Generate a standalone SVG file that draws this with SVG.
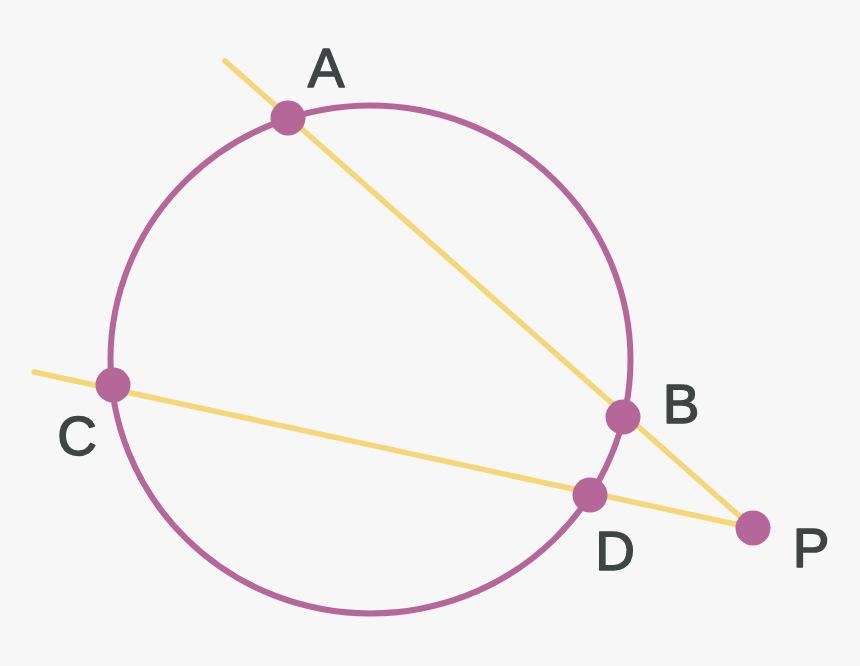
<svg xmlns="http://www.w3.org/2000/svg" width="860" height="666" viewBox="0 0 860 666">
  <style>
    .seg { stroke: #f5d679; stroke-width: 5.5; stroke-linecap: round; fill: none; }
    .circ { stroke: #b5679a; stroke-width: 6; fill: none; }
    .pt { fill: #b5679a; }
    .lbl { font-family: "Liberation Sans", "DejaVu Sans", sans-serif; font-size: 55px; fill: #3f4444; stroke: #3f4444; stroke-width: 1.5; stroke-linejoin: round; text-anchor: middle; }
  </style>
  <rect x="0" y="0" width="860" height="666" fill="#f7f7f7"/>
  <g id="connectors">
    <line class="seg" x1="225" y1="61" x2="753" y2="528"/>
    <line class="seg" x1="34" y1="372" x2="753" y2="528"/>
    <ellipse class="circ" cx="370.5" cy="359.5" rx="260" ry="254"/>
  </g>
  <g id="A">
    <circle class="pt" cx="288" cy="118" r="17.5"/>
    <text class="lbl" x="326" y="87">A</text>
  </g>
  <g id="B">
    <circle class="pt" cx="623" cy="417" r="17.5"/>
    <text class="lbl" x="681" y="423">B</text>
  </g>
  <g id="C">
    <circle class="pt" cx="113" cy="385" r="17.5"/>
    <text class="lbl" x="77" y="455">C</text>
  </g>
  <g id="D">
    <circle class="pt" cx="590" cy="495" r="17.5"/>
    <text class="lbl" x="615" y="570">D</text>
  </g>
  <g id="P">
    <circle class="pt" cx="753" cy="528" r="17.5"/>
    <text class="lbl" x="811" y="567">P</text>
  </g>
</svg>
